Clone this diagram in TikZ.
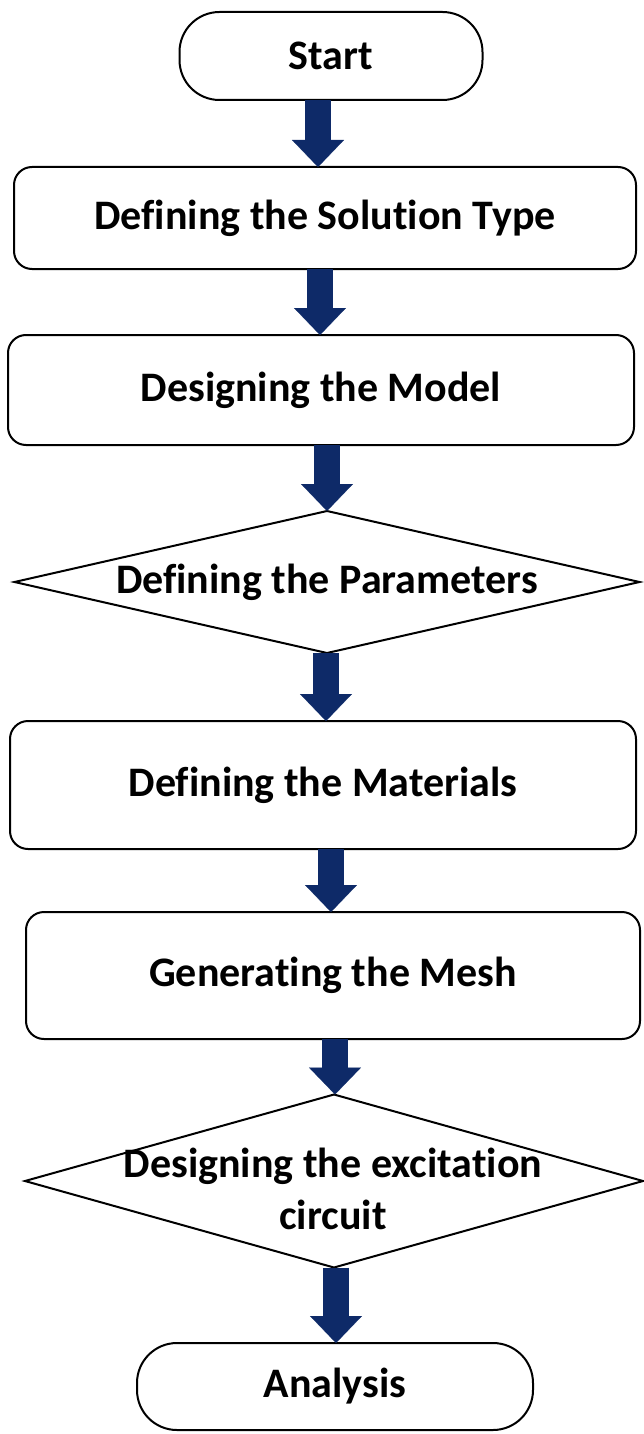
\documentclass[tikz,border=0pt]{standalone}
\usepackage{fontspec}
\setmainfont{Carlito}[Ligatures={NoCommon}]
\usetikzlibrary{arrows.meta}
\definecolor{navy}{RGB}{14,42,104}
\tikzset{
  base/.style={inner sep=0pt, outer sep=0pt, align=center,
    font=\fontsize{42}{52}\selectfont\bfseries},
  term/.style={base, draw=black, line width=2pt, rounded corners=40pt},
  proc/.style={base, draw=black, line width=2pt, rounded corners=18pt},
  dec/.style={base},
  dshape/.style={draw=black, line width=2pt, line join=miter},
  arr/.style={draw=navy, line width=26pt,
    -{Triangle[width=52pt,length=27pt,line width=0.1pt]}}
}
\begin{document}
\begin{tikzpicture}[x=1pt,y=1pt]
\useasboundingbox (0,0) rectangle (643,-1434);
\node[term, minimum width=303, minimum height=88] (start) at (331,-56) {Start};
\node[proc, minimum width=622, minimum height=102] (b1) at (325,-218) {Defining the Solution Type};
\node[proc, minimum width=626, minimum height=110] (b2) at (321,-390) {Designing the Model};
\node[dec, minimum width=625, minimum height=142] (d1) at (327,-582) {Defining the Parameters};
\draw[dshape] (d1.north) -- (d1.east) -- (d1.south) -- (d1.west) -- cycle;
\node[proc, minimum width=626, minimum height=128] (b3) at (323,-785) {Defining the Materials};
\node[proc, minimum width=614, minimum height=127] (b4) at (333,-975.5) {Generating the Mesh};
\node[dec, minimum width=618, minimum height=173] (d2) at (334,-1181) {};
\draw[dshape] (d2.north) -- (d2.east) -- (d2.south) -- (d2.west) -- cycle;
\node[base] (d2t) at (333,-1189) {Designing the excitation\\circuit};
\node[term, minimum width=396, minimum height=87] (ana) at (335,-1386.5) {Analysis};
\coordinate (x1) at (318,0);
\coordinate (x2) at (320,0);
\coordinate (x3) at (327,0);
\coordinate (x4) at (326,0);
\coordinate (x5) at (331,0);
\coordinate (x6) at (335,0);
\coordinate (x7) at (336,0);
\draw[arr] (start.south -| x1) -- (b1.north -| x1);
\draw[arr] (b1.south -| x2) -- (b2.north -| x2);
\draw[arr] (b2.south -| x3) -- (d1.north -| x3);
\draw[arr] (d1.south -| x4) -- (b3.north -| x4);
\draw[arr] (b3.south -| x5) -- (b4.north -| x5);
\draw[arr] (b4.south -| x6) -- (d2.north -| x6);
\draw[arr] (d2.south -| x7) -- (ana.north -| x7);
\end{tikzpicture}
\end{document}
